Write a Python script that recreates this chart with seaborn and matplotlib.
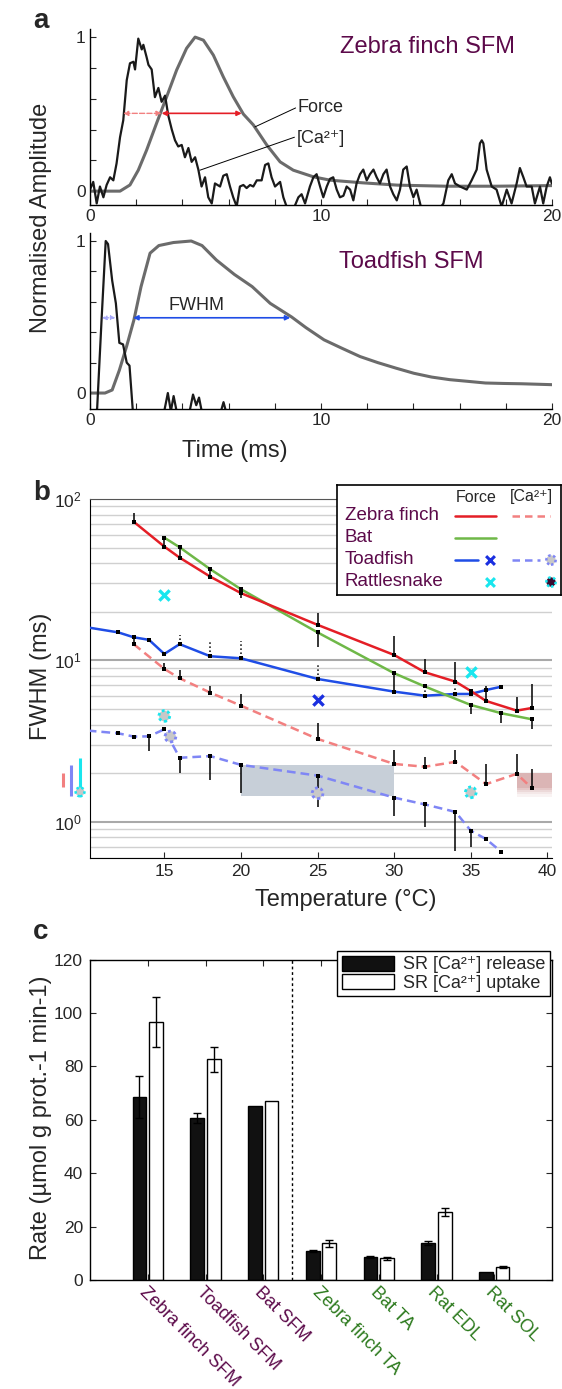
import numpy as np
import pandas as pd
import matplotlib
matplotlib.use('Agg')
import matplotlib.pyplot as plt
import seaborn as sns
from matplotlib.patches import Patch
from matplotlib.ticker import LogLocator, NullFormatter

sns.set_style('ticks')
plt.rcParams['font.family'] = ['Liberation Sans', 'DejaVu Sans']
plt.rcParams['mathtext.fontset'] = 'custom'
plt.rcParams['mathtext.rm'] = 'Liberation Sans'
plt.rcParams['mathtext.it'] = 'Liberation Sans:italic'
plt.rcParams['mathtext.bf'] = 'Liberation Sans:bold'

W, H = 562, 1389
PURPLE = '#5c0a4a'
GREEN_TXT = '#2d7a1e'
RED = '#e41e26'
RED_CA = '#f28080'
BAT = '#6fb848'
BLUE = '#1f4de6'
BLUE_CA = '#7f86f5'
CYAN = '#19e6ee'
CA = '[Ca²⁺]'

# ---- panel a: zebra finch SFM traces (time in ms, normalised amplitude)
zf_ca_t = [0, 0.14, 0.29, 0.43, 0.58, 0.72, 0.87, 1.01, 1.15, 1.30, 1.44, 1.59, 1.73, 1.88, 1.95,
           2.09, 2.24, 2.31, 2.45, 2.53, 2.67, 2.81, 2.96, 3.10, 3.25, 3.39, 3.54, 3.68, 3.82, 3.97,
           4.11, 4.26, 4.40, 4.55, 4.69, 4.83, 4.98, 5.12, 5.27, 5.41, 5.63, 5.77, 5.92, 6.06, 6.20,
           6.35, 6.49, 6.64, 6.78, 6.93, 7.07, 7.22, 7.43, 7.58, 7.72, 7.86, 8.01, 8.23, 8.37, 8.51,
           8.80, 9.02, 9.16, 9.31, 9.52, 9.67, 9.81, 9.96, 10.10, 10.25, 10.39, 10.53, 10.68, 10.82,
           10.97, 11.11, 11.26, 11.40, 11.54, 11.69, 11.83, 11.98, 12.12, 12.27, 12.41, 12.55, 12.70,
           12.84, 12.99, 13.13, 13.28, 13.42, 13.56, 13.71, 13.85, 14.00, 14.14, 14.29, 14.43, 14.86,
           15.30, 15.51, 15.66, 15.80, 16.02, 16.31, 16.52, 16.74, 16.88, 16.96, 17.03, 17.17, 17.39,
           17.60, 17.82, 18.04, 18.25, 18.47, 18.61, 18.76, 18.90, 19.12, 19.26, 19.48, 19.62, 19.77,
           19.91, 19.99]
zf_ca_amp = [0.01, 0.06, -0.08, 0.03, -0.04, 0.04, 0.09, 0.07, 0.18, 0.35, 0.46, 0.72, 0.83, 0.84, 0.79,
             0.99, 0.92, 0.95, 0.87, 0.82, 0.79, 0.61, 0.67, 0.58, 0.62, 0.49, 0.40, 0.33, 0.29, 0.30,
             0.22, 0.28, 0.19, 0.22, 0.14, 0.03, 0.09, -0.04, -0.08, 0.05, 0.03, 0.10, 0.11, 0.03, -0.04,
             -0.10, 0.03, 0.04, 0.02, 0.04, 0.03, 0.07, 0.07, 0.17, 0.18, 0.09, 0.03, 0.06, -0.04, -0.10,
             -0.12, -0.04, -0.02, -0.08, 0.03, 0.09, 0.11, 0.03, -0.04, 0.03, 0.08, 0.09, 0.01, -0.04,
             -0.03, 0.03, 0.01, -0.06, 0.05, 0.11, 0.14, 0.07, 0.11, 0.14, 0.09, 0.05, 0.11,
             0.14, 0.03, -0.02, -0.06, 0.01, 0.14, 0.16, 0.03, -0.04, 0.01, -0.08, -0.17, -0.17,
             -0.08, 0.07, 0.11, 0.05, 0.03, 0.01, 0.07, 0.14, 0.31, 0.33, 0.31, 0.14, 0.03,
             0.01, -0.10, 0.01, -0.08, 0.05, 0.15, 0.09, 0.03, 0.03, -0.08, 0.03, -0.08, 0.03,
             0.09, 0.05]
zf_force_t = [0, 1.30, 1.73, 2.09, 2.45, 2.88, 3.32, 3.75, 4.18, 4.55, 4.91, 5.34, 5.77, 6.20, 6.64,
              7.07, 7.65, 8.23, 8.80, 9.67, 10.40, 11.80, 13.30, 15.40, 17.60, 20.0]
zf_force_amp = [0, 0, 0.04, 0.136, 0.266, 0.44, 0.613, 0.786, 0.927, 1.0, 0.98, 0.883, 0.742, 0.613, 0.50,
                0.43, 0.30, 0.19, 0.136, 0.093, 0.071, 0.054, 0.039, 0.032, 0.032, 0.036]

# ---- panel a: toadfish SFM traces
tf_ca_t = [0.0, 0.31, 0.50, 0.68, 0.78, 0.96, 1.12, 1.27, 1.43, 1.59, 1.71, 1.86, 3.20, 3.37, 3.50,
           3.62, 3.75, 4.30, 4.46, 4.60, 4.72, 4.85, 5.65, 5.78, 5.90, 20.0]
tf_ca_amp = [-0.3, -0.10, 0.48, 1.0, 0.98, 0.74, 0.59, 0.33, 0.32, 0.20, 0.18, -0.13, -0.13, 0.0, -0.12,
             -0.02, -0.12, -0.13, -0.01, -0.08, -0.03, -0.13, -0.13, -0.06, -0.13, -0.2]
tf_force_t = [0, 0.65, 0.96, 1.27, 1.59, 1.90, 2.21, 2.60, 2.98, 3.61, 4.38, 4.85, 5.47, 6.25, 7.02,
              7.80, 8.73, 9.35, 10.13, 10.90, 11.69, 12.46, 13.24, 14.02, 14.79, 15.57, 16.35, 17.12,
              17.90, 18.68, 20.0]
tf_force_amp = [0, 0, 0.02, 0.15, 0.31, 0.48, 0.70, 0.92, 0.97, 0.99, 1.0, 0.97, 0.875, 0.78, 0.70,
                0.59, 0.50, 0.43, 0.35, 0.295, 0.24, 0.20, 0.164, 0.13, 0.105, 0.088, 0.077, 0.066,
                0.063, 0.061, 0.055]

# ---- panel b: FWHM vs temperature
nan = np.nan
zf_force_T = [13, 15, 16, 18, 20, 25, 30, 32, 34, 35, 36, 38, 39]
zf_force = [72.3, 50.7, 43.3, 33.0, 26.1, 16.6, 10.8, 8.44, 7.38, 6.46, 5.60, 4.88, 5.07]
zf_force_hi = [81.7, nan, nan, nan, nan, 19.6, 14.2, 10.2, 9.8, nan, 6.97, 5.96, 7.11]

bat_T = [15, 16, 18, 20, 25, 30, 32, 35, 37, 39]
bat_force = [57.6, 50.2, 36.7, 27.6, 14.9, 8.32, 6.89, 5.29, 4.70, 4.31]
bat_force_lo = [50.7, 43.3, 33.0, 24.3, 12.1, 6.40, nan, 4.63, 4.07, 3.74]

tf_T = [10.0, 12, 13, 14, 15, 16, 18, 20, 25, 30, 32, 34, 35, 36, 37]
tf_force = [16.0, 14.9, 13.9, 13.4, 10.96, 12.6, 10.6, 10.3, 7.67, 6.40, 6.04, 6.19, 6.19, 6.55, 6.87]
tf_force_hi = [nan, nan, nan, nan, nan, 14.4, 13.1, 13.1, 9.36, nan, 6.8, 6.7, nan, nan, nan]

zf_ca_T = [13, 15, 16, 18, 20, 25, 30, 32, 34, 36, 38, 39]
zf_ca = [12.6, 8.85, 7.74, 6.31, 5.24, 3.26, 2.28, 2.19, 2.35, 1.71, 1.98, 1.61]
zf_ca_hi = [13.9, 9.6, 8.72, 6.97, 6.19, 4.1, 2.78, 2.51, 2.78, 2.27, 2.62, 2.12]

tf_ca_T = [10.0, 12, 13, 14, 15, 16, 18, 20, 25, 30, 32, 34, 35, 36, 37]
tf_ca = [3.67, 3.53, 3.37, 3.38, 3.74, 2.49, 2.55, 2.25, 1.93, 1.41, 1.28, 1.15, 0.88, 0.78, 0.65]
tf_ca_lo = [nan, nan, nan, 2.74, nan, 2.01, 1.81, 1.50, 1.23, 1.08, 0.93, 0.66, 0.70, nan, nan]

tf_force_x_T, tf_force_x = [25], [5.68]
rs_force_T, rs_force = [15, 35], [25.4, 8.51]
tf_ca_pt_T, tf_ca_pt = [15.4, 25], [3.37, 1.50]
rs_ca_T, rs_ca = [15, 35], [4.52, 1.52]

tf_ca_range = (20, 30, 1.44, 2.25)
zf_ca_range = (38, 40.3, 1.43, 2.0)
side_T = [8.41, 8.91, 9.5]
side_lo = [1.65, 1.44, 1.44]
side_hi = [2.01, 2.25, 2.49]
side_rs_ca = 1.53

# ---- panel c: SR Ca2+ handling
muscles = ['Zebra finch SFM', 'Toadfish SFM', 'Bat SFM', 'Zebra finch TA', 'Bat TA', 'Rat EDL', 'Rat SOL']
release = [68.5, 60.8, 65.2, 10.9, 8.7, 13.9, 2.9]
release_err = [8.0, 1.9, 0, 0.5, 0.3, 0.7, 0]
uptake = [96.7, 82.7, 67.2, 13.7, 8.1, 25.5, 4.8]
uptake_err = [9.3, 4.7, 0, 1.3, 0.5, 1.4, 0.3]
label_colors = [PURPLE] * 3 + [GREEN_TXT] * 4


def fx(px):
    return px / W


def fy(py):
    return 1 - py / H


fig = plt.figure(figsize=(W / 100, H / 100), dpi=100)
fig.patch.set_facecolor('white')

TICK = 12.5
LAB = 17


def trace_panel(rect, ylim):
    ax = fig.add_axes(rect)
    ax.set_xlim(0, 20)
    ax.set_ylim(*ylim)
    sns.despine(ax=ax)
    for s in ['left', 'bottom']:
        ax.spines[s].set_color('k')
        ax.spines[s].set_linewidth(1.0)
    ax.set_xticks(np.arange(0, 21, 2))
    ax.set_xticklabels(['0', '', '', '', '', '10', '', '', '', '', '20'])
    ax.set_yticks(np.arange(0, 1.01, 0.2))
    ax.set_yticklabels(['0', '', '', '', '', '1'])
    ax.tick_params(direction='in', length=4, width=0.8, labelsize=TICK, pad=3)
    return ax


ax1 = trace_panel([fx(90), fy(205), fx(462), 175.6 / H], (-0.09, 1.05))
sns.lineplot(x=zf_force_t, y=zf_force_amp, ax=ax1, color='#6b6b6b', lw=2.2, sort=False, estimator=None)
sns.lineplot(x=zf_ca_t, y=zf_ca_amp, ax=ax1, color='#1a1a1a', lw=1.6, sort=False, estimator=None)
ax1.annotate('', xy=(3.1, 0.505), xytext=(1.44, 0.505),
             arrowprops=dict(arrowstyle='<|-|>', color=RED_CA, lw=1.0, ls='--', mutation_scale=7,
                             shrinkA=0, shrinkB=0))
ax1.annotate('', xy=(6.57, 0.505), xytext=(3.1, 0.505),
             arrowprops=dict(arrowstyle='<|-|>', color=RED, lw=1.2, mutation_scale=7,
                             shrinkA=0, shrinkB=0))
ax1.plot([7.14, 8.9], [0.417, 0.54], color='k', lw=0.7)
ax1.plot([4.76, 8.85], [0.136, 0.35], color='k', lw=0.7)
ax1.text(9.0, 0.515, 'Force', fontsize=13, va='baseline')
ax1.text(8.95, 0.31, CA, fontsize=13, va='baseline')
ax1.text(10.82, 0.90, 'Zebra finch SFM', fontsize=17, color=PURPLE, va='baseline')

ax2 = trace_panel([fx(90), fy(409), fx(462), 175.6 / H], (-0.105, 1.05))
sns.lineplot(x=tf_force_t, y=tf_force_amp, ax=ax2, color='#6b6b6b', lw=2.2, sort=False, estimator=None)
sns.lineplot(x=tf_ca_t, y=tf_ca_amp, ax=ax2, color='#1a1a1a', lw=1.6, sort=False, estimator=None)
ax2.annotate('', xy=(1.1, 0.495), xytext=(0.52, 0.495),
             arrowprops=dict(arrowstyle='<|-|>', color='#a8aaf8', lw=1.0, ls='--', mutation_scale=6,
                             shrinkA=0, shrinkB=0))
ax2.annotate('', xy=(8.67, 0.495), xytext=(1.87, 0.495),
             arrowprops=dict(arrowstyle='<|-|>', color=BLUE, lw=1.2, mutation_scale=7,
                             shrinkA=0, shrinkB=0))
ax2.text(3.4, 0.546, 'FWHM', fontsize=13, va='baseline')
ax2.text(10.78, 0.82, 'Toadfish SFM', fontsize=17, color=PURPLE, va='baseline')

fig.text(fx(41), fy(218), 'Normalised Amplitude', rotation=90, ha='center', va='center', fontsize=LAB)
fig.text(fx(235), fy(451), 'Time (ms)', ha='center', va='center', fontsize=LAB)

# ---- panel b
axb = fig.add_axes([fx(90), fy(857.5), fx(462), 358.5 / H])
axb.set_yscale('log')
axb.set_xlim(10.15, 40.3)
axb.set_ylim(0.6, 100)
axb.yaxis.set_minor_locator(LogLocator(base=10, subs=np.arange(2, 10)))
axb.yaxis.set_minor_formatter(NullFormatter())
axb.set_axisbelow(True)
axb.yaxis.grid(True, which='minor', color='#d0d0d0', lw=1.0)
axb.yaxis.grid(True, which='major', color='#a9a9a9', lw=1.5)
axb.set_xticks([15, 20, 25, 30, 35, 40])
axb.tick_params(axis='x', direction='in', length=4, labelsize=TICK, pad=5)
axb.tick_params(axis='y', which='both', direction='in', length=0, labelsize=TICK, pad=6)
axb.spines['right'].set_visible(False)
axb.spines['top'].set_color('#555555')
axb.spines['left'].set_color('k')
axb.spines['bottom'].set_color('k')

# shaded ranges
x0, x1, y0, y1 = tf_ca_range
axb.fill_between([x0, x1], y0, y1, color='#c7cfd8', lw=0, zorder=1)
x0, x1, y0, y1 = zf_ca_range
axb.fill_between([x0, x1], 1.62, y1, color='#dbb5b5', lw=0, zorder=1)
for k, a in enumerate([0.75, 0.5, 0.3, 0.15]):
    lo = 1.62 * (y0 / 1.62) ** ((k + 1) / 4)
    hi = 1.62 * (y0 / 1.62) ** (k / 4)
    axb.fill_between([x0, x1], lo, hi, color='#dbb5b5', alpha=a, lw=0, zorder=1)

dfs = {
    'zf_force': pd.DataFrame({'T': zf_force_T, 'v': zf_force}),
    'bat': pd.DataFrame({'T': bat_T, 'v': bat_force}),
    'tf_force': pd.DataFrame({'T': tf_T, 'v': tf_force}),
    'zf_ca': pd.DataFrame({'T': zf_ca_T, 'v': zf_ca}),
    'tf_ca': pd.DataFrame({'T': tf_ca_T, 'v': tf_ca}),
}
sns.lineplot(data=dfs['zf_ca'], x='T', y='v', ax=axb, color=RED_CA, lw=1.8, ls=(0, (3.5, 2)), estimator=None, zorder=3)
sns.lineplot(data=dfs['tf_ca'], x='T', y='v', ax=axb, color=BLUE_CA, lw=1.8, ls=(0, (3.5, 2)), estimator=None, zorder=3)
sns.lineplot(data=dfs['tf_force'], x='T', y='v', ax=axb, color=BLUE, lw=1.8, estimator=None, zorder=3)
sns.lineplot(data=dfs['bat'], x='T', y='v', ax=axb, color=BAT, lw=1.8, estimator=None, zorder=3)
sns.lineplot(data=dfs['zf_force'], x='T', y='v', ax=axb, color=RED, lw=1.8, estimator=None, zorder=3)


# one-sided error bars
def bars(T, v, end, ls='-'):
    T, v, end = np.array(T), np.array(v), np.array(end, dtype=float)
    m = ~np.isnan(end)
    axb.vlines(T[m], v[m], end[m], color='k', lw=1.1, linestyles=ls, zorder=4)


bars(zf_force_T, zf_force, zf_force_hi)
bars(bat_T, bat_force, bat_force_lo)
bars(tf_T, tf_force, tf_force_hi, ls=':')
bars(zf_ca_T, zf_ca, zf_ca_hi)
bars(tf_ca_T, tf_ca, tf_ca_lo)
for T, v in [(zf_force_T, zf_force), (bat_T, bat_force), (tf_T, tf_force), (zf_ca_T, zf_ca), (tf_ca_T, tf_ca)]:
    axb.scatter(T, v, s=5, color='k', marker='s', zorder=5, lw=0)

axb.scatter(tf_force_x_T, tf_force_x, marker='x', s=55, color='#1a2fe0', lw=2.4, zorder=6)
axb.scatter(rs_force_T, rs_force, marker='x', s=55, color=CYAN, lw=2.4, zorder=6)
axb.scatter(tf_ca_pt_T, tf_ca_pt, marker='o', s=60, facecolor='#c8c8c8', edgecolor=BLUE_CA,
            lw=2.0, linestyle=(0, (1, 1)), zorder=6)
axb.scatter(rs_ca_T, rs_ca, marker='o', s=60, facecolor='#c8c8c8', edgecolor=CYAN,
            lw=2.0, linestyle=(0, (1, 1)), zorder=6)

# ranges drawn left of the axis
for T, lo, hi, c in zip(side_T, side_lo, side_hi, [RED_CA, BLUE_CA, CYAN]):
    axb.vlines(T, lo, hi, color=c, lw=2.2, clip_on=False)
axb.scatter([side_T[2]], [side_rs_ca], marker='o', s=40, facecolor='#c8c8c8', edgecolor=CYAN,
            lw=1.8, linestyle=(0, (1, 1)), clip_on=False, zorder=6)

axb.set_ylabel('')
axb.set_xlabel('')
fig.text(fx(41), fy(676), 'FWHM (ms)', rotation=90, ha='center', va='center', fontsize=LAB)
fig.text(fx(346), fy(900), 'Temperature (°C)', ha='center', va='center', fontsize=LAB)

# legend for panel b (table style)
leg = fig.add_axes([fx(337), fy(595), fx(224), 110 / H])
leg.set_xlim(337, 561)
leg.set_ylim(595, 485)
leg.set_xticks([])
leg.set_yticks([])
leg.set_facecolor('white')
for s in leg.spines.values():
    s.set_visible(True)
    s.set_color('k')
    s.set_linewidth(1.2)
leg.text(476, 498, 'Force', ha='center', va='center', fontsize=11.5)
leg.text(531, 497, CA, ha='center', va='center', fontsize=11.5)
rows = ['Zebra finch', 'Bat', 'Toadfish', 'Rattlesnake']
ry = [516, 538, 560, 582]
for name, y in zip(rows, ry):
    leg.text(345, y, name, ha='left', va='center', fontsize=13.5, color=PURPLE)
leg.plot([455, 496], [ry[0]] * 2, color=RED, lw=1.8)
leg.plot([512, 550], [ry[0]] * 2, color=RED_CA, lw=1.8, ls=(0, (3, 2)))
leg.plot([455, 496], [ry[1]] * 2, color=BAT, lw=1.8)
leg.plot([455, 478], [ry[2]] * 2, color=BLUE, lw=1.8)
leg.scatter([490], [ry[2]], marker='x', s=40, color='#1a2fe0', lw=2.2)
leg.plot([512, 540], [ry[2]] * 2, color=BLUE_CA, lw=1.8, ls=(0, (3, 2)))
leg.scatter([551], [ry[2]], marker='o', s=45, facecolor='#c8c8c8', edgecolor=BLUE_CA, lw=1.8,
            linestyle=(0, (1, 1)))
leg.scatter([490], [ry[3]], marker='x', s=40, color=CYAN, lw=2.2)
leg.scatter([551], [ry[3]], marker='o', s=45, facecolor='#3a0a30', edgecolor=CYAN, lw=1.8,
            linestyle=(0, (1, 1)))

# ---- panel c
axc = fig.add_axes([fx(90), fy(1280), fx(462), 320.4 / H])
df_c = pd.DataFrame({
    'muscle': muscles * 2,
    'rate': release + uptake,
    'kind': ['release'] * len(muscles) + ['uptake'] * len(muscles),
})
sns.barplot(data=df_c, x='muscle', y='rate', hue='kind', order=muscles, hue_order=['release', 'uptake'],
            palette={'release': '#111111', 'uptake': 'white'}, edgecolor='black', linewidth=1.0,
            width=0.574, gap=0.16, errorbar=None, legend=False, ax=axc)
patches = sorted(axc.patches, key=lambda p: p.get_x())
rel_p = patches[0::2]
upt_p = patches[1::2]
for plist, vals, errs in [(rel_p, release, release_err), (upt_p, uptake, uptake_err)]:
    for p, v, e in zip(plist, vals, errs):
        if e > 0:
            axc.errorbar(p.get_x() + p.get_width() / 2, v, yerr=e, color='k', lw=1.0, capsize=3,
                         capthick=1.0, fmt='none')
axc.axvline(2.5, color='k', lw=1.0, ls=(0, (2, 2)))
axc.set_xlim(-1, 7)
axc.set_ylim(0, 120)
axc.set_yticks(np.arange(0, 121, 20))
axc.tick_params(direction='in', length=4, width=0.8, top=True, right=True, labelsize=TICK, pad=5)
for s in axc.spines.values():
    s.set_visible(True)
    s.set_color('k')
    s.set_linewidth(1.0)
axc.set_xlabel('')
axc.set_ylabel('')
axc.set_xticks(range(len(muscles)))
axc.set_xticklabels(muscles, rotation=-45, ha='left', va='top', rotation_mode='anchor', fontsize=13)
for lab, c in zip(axc.get_xticklabels(), label_colors):
    lab.set_color(c)
axc.tick_params(axis='x', pad=3)
fig.text(fx(41), fy(1118), 'Rate (µmol g prot.-1 min-1)', rotation=90, ha='center', va='center', fontsize=LAB)

axc.legend(handles=[Patch(facecolor='#111111', edgecolor='k'), Patch(facecolor='white', edgecolor='k')],
           labels=['SR ' + CA + ' release', 'SR ' + CA + ' uptake'],
           loc='upper left', bbox_to_anchor=(fx(337), fy(951)), bbox_transform=fig.transFigure,
           fancybox=False, edgecolor='k', framealpha=1, fontsize=13, handlelength=2.9, handleheight=0.9,
           borderpad=0.25, labelspacing=0.05, handletextpad=0.5, borderaxespad=0)

# panel letters
for letter, y in [('a', 28), ('b', 500), ('c', 939)]:
    fig.text(fx(33), fy(y), letter, fontsize=20, fontweight='bold', va='baseline', ha='left')

fig.savefig('out.png', dpi=100, facecolor='white')
